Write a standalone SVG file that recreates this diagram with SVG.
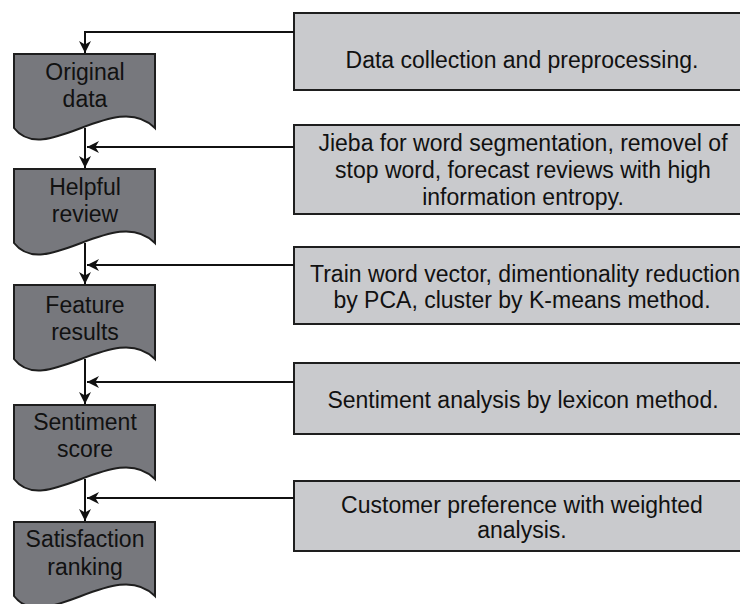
<svg xmlns="http://www.w3.org/2000/svg" width="740" height="604" viewBox="0 0 740 604">
<defs>
<style>
.doc{fill:#77787d;stroke:#1e1e1e;stroke-width:2}
.box{fill:#c9cacd;stroke:#1e1e1e;stroke-width:2}
.t{font-family:"Liberation Sans",Arial,sans-serif;font-size:23px;fill:#111;text-anchor:middle}
.ln{fill:none;stroke:#111;stroke-width:2}
</style>
<marker id="ah" markerWidth="12" markerHeight="12" refX="10" refY="5" orient="auto" markerUnits="userSpaceOnUse" viewBox="0 0 10 10">
<path d="M0,0 L10,5 L0,10 L3,5 z" fill="#111"/>
</marker>
</defs>
<rect width="740" height="604" fill="#fff"/>

<g id="original-data">
<path class="doc" d="M14,54 H155 V128 C115,88 45,168 14,128 Z"/>
<text class="t" x="85" y="80">Original</text>
<text class="t" x="85" y="107">data</text>
</g>
<g id="helpful-review">
<path class="doc" d="M14,169 H155 V243 C115,203 45,283 14,243 Z"/>
<text class="t" x="85" y="195">Helpful</text>
<text class="t" x="85" y="222">review</text>
</g>
<g id="feature-results">
<path class="doc" d="M14,285 H155 V359 C115,319 45,399 14,359 Z"/>
<text class="t" x="85" y="313">Feature</text>
<text class="t" x="85" y="340">results</text>
</g>
<g id="sentiment-score">
<path class="doc" d="M14,405 H155 V479 C115,439 45,519 14,479 Z"/>
<text class="t" x="85" y="430">Sentiment</text>
<text class="t" x="85" y="457">score</text>
</g>
<g id="satisfaction-ranking">
<path class="doc" d="M14,522 H155 V596 C115,556 45,636 14,596 Z"/>
<text class="t" x="85" y="547">Satisfaction</text>
<text class="t" x="85" y="575">ranking</text>
</g>

<g id="step1">
<rect class="box" x="294" y="13" width="460" height="77"/>
<text class="t" x="522" y="68">Data collection and preprocessing.</text>
</g>
<g id="step2">
<rect class="box" x="294" y="125" width="460" height="89"/>
<text class="t" x="523" y="151">Jieba for word segmentation, removel of</text>
<text class="t" x="523" y="178">stop word, forecast reviews with high</text>
<text class="t" x="523" y="205">information entropy.</text>
</g>
<g id="step3">
<rect class="box" x="294" y="247" width="460" height="77"/>
<text class="t" x="525" y="282">Train word vector, dimentionality reduction</text>
<text class="t" x="522" y="308">by PCA, cluster by K-means method.</text>
</g>
<g id="step4">
<rect class="box" x="294" y="363" width="460" height="71"/>
<text class="t" x="523" y="408">Sentiment analysis by lexicon method.</text>
</g>
<g id="step5">
<rect class="box" x="294" y="481" width="460" height="70"/>
<text class="t" x="522" y="513">Customer preference with weighted</text>
<text class="t" x="522" y="538">analysis.</text>
</g>

<g id="connectors">
<path class="ln" d="M294,32 H85 V53" marker-end="url(#ah)"/>
<path class="ln" d="M85,128 V168" marker-end="url(#ah)"/>
<path class="ln" d="M85,243 V284" marker-end="url(#ah)"/>
<path class="ln" d="M85,359 V404" marker-end="url(#ah)"/>
<path class="ln" d="M85,479 V521" marker-end="url(#ah)"/>
<path class="ln" d="M294,147 H87" marker-end="url(#ah)"/>
<path class="ln" d="M294,265 H87" marker-end="url(#ah)"/>
<path class="ln" d="M294,382 H87" marker-end="url(#ah)"/>
<path class="ln" d="M294,498 H87" marker-end="url(#ah)"/>
</g>
</svg>
